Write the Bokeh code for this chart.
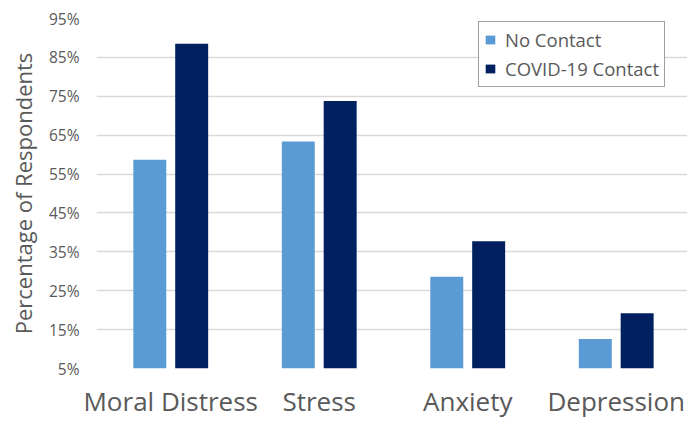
from bokeh.plotting import figure
from bokeh.models import (ColumnDataSource, FixedTicker, PrintfTickFormatter,
                          Legend, LegendItem, Range1d)
from bokeh.transform import dodge
from bokeh.embed import file_html
from bokeh.resources import INLINE

categories = ["Moral Distress", "Stress", "Anxiety", "Depression"]
no_contact = [58.7, 63.4, 28.6, 12.6]
covid_contact = [88.5, 73.8, 37.7, 19.2]
y_ticks = [5, 15, 25, 35, 45, 55, 65, 75, 85, 95]

FONT = "Open Sans"
GREY = "#595959"
LIGHT = "#5B9BD5"
DARK = "#002060"

src = ColumnDataSource(dict(
    x=list(range(len(categories))),
    no_contact=no_contact,
    covid=covid_contact,
))

p = figure(width=687, height=421, output_backend="svg", toolbar_location=None,
           x_range=Range1d(-0.5, 3.48), y_range=Range1d(5, 95),
           min_border_left=96, min_border_right=0,
           min_border_top=18, min_border_bottom=53)
p.outline_line_color = None
p.background_fill_color = "white"
p.border_fill_color = "white"

bw = 0.222
r1 = p.vbar(x=dodge("x", -0.141), top="no_contact", bottom=0, width=bw,
            source=src, fill_color=LIGHT, line_color=None)
r2 = p.vbar(x=dodge("x", 0.141), top="covid", bottom=0, width=bw,
            source=src, fill_color=DARK, line_color=None)

# y axis
p.yaxis.ticker = FixedTicker(ticks=y_ticks)
p.yaxis.formatter = PrintfTickFormatter(format="%d%%")
p.yaxis.axis_line_color = None
p.yaxis.major_tick_line_color = None
p.yaxis.minor_tick_line_color = None
p.yaxis.major_tick_out = 0
p.yaxis.major_tick_in = 0
p.yaxis.minor_tick_out = 0
p.yaxis.major_label_text_font = FONT
p.yaxis.major_label_text_font_size = "15.5px"
p.yaxis.major_label_text_color = GREY
p.yaxis.major_label_standoff = 17
p.yaxis.axis_label = "Percentage of Respondents"
p.yaxis.axis_label_text_font = FONT
p.yaxis.axis_label_text_font_size = "22px"
p.yaxis.axis_label_text_font_style = "normal"
p.yaxis.axis_label_text_color = GREY
p.yaxis.axis_label_standoff = 8

# x axis with category names
p.xaxis.ticker = FixedTicker(ticks=list(range(len(categories))))
p.xaxis.major_label_overrides = {i: c for i, c in enumerate(categories)}
p.xaxis.axis_line_color = None
p.xaxis.major_tick_line_color = None
p.xaxis.minor_tick_line_color = None
p.xaxis.major_tick_out = 0
p.xaxis.major_tick_in = 0
p.xaxis.minor_tick_out = 0
p.xaxis.major_label_text_font = FONT
p.xaxis.major_label_text_font_size = "26px"
p.xaxis.major_label_text_color = GREY
p.xaxis.major_label_standoff = 14

p.xgrid.grid_line_color = None
p.ygrid.grid_line_color = "#d9d9d9"
p.ygrid.grid_line_width = 1.5

legend = Legend(items=[LegendItem(label="No Contact", renderers=[r1]),
                       LegendItem(label="COVID-19 Contact", renderers=[r2])],
                location=(382, 281), orientation="vertical")
legend.border_line_color = "#404040"
legend.border_line_width = 1
legend.background_fill_color = "white"
legend.background_fill_alpha = 1
legend.label_text_font = FONT
legend.label_text_font_size = "18.5px"
legend.label_text_color = GREY
legend.label_height = 20
legend.glyph_width = 12
legend.glyph_height = 11
legend.label_standoff = 9
legend.spacing = 4
legend.padding = 5
legend.margin = 0
p.add_layout(legend, "center")

open("out.html", "w").write(file_html(p, INLINE))
